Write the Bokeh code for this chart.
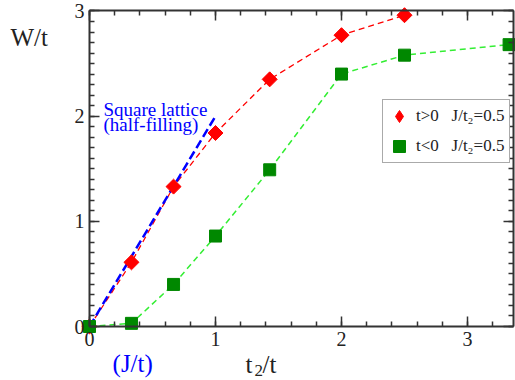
import numpy as np
from bokeh.plotting import figure
from bokeh.models import (LinearAxis, SingleIntervalTicker, Label, Legend,
                          LegendItem, Range1d, CustomLabelingPolicy)
from bokeh.embed import file_html
from bokeh.resources import INLINE

# ---- data ----
pos_x = [0.0, 0.333, 0.667, 1.0, 1.43, 2.0, 2.5]
pos_w = [0.0, 0.61, 1.33, 1.84, 2.35, 2.77, 2.96]
neg_x = [0.0, 0.333, 0.667, 1.0, 1.43, 2.0, 2.5, 3.33]
neg_w = [0.0, 0.03, 0.40, 0.86, 1.49, 2.40, 2.58, 2.68]
sq_x = [0.0, 1.0]
sq_w = [0.0, 2.0]
x_axis_range = (0.0, 3.365)
y_axis_range = (0.0, 3.0)
pos_label = "t>0\u00a0\u00a0\u00a0J/t\u2082=0.5"
neg_label = "t<0\u00a0\u00a0\u00a0J/t\u2082=0.5"

FONT = "Liberation Serif"
AX = "#333333"
W, H = 515, 380
PX_X, PX_Y = 126.0, 105.17      # pixels per data unit
X0_PX, Y0_PX = 89.0, 326.0       # pixel position of the data origin

p = figure(width=W, height=H, output_backend="svg", toolbar_location=None,
           x_range=Range1d(-X0_PX / PX_X, (W - X0_PX) / PX_X),
           y_range=Range1d(-(H - Y0_PX) / PX_Y, Y0_PX / PX_Y),
           x_axis_location=None, y_axis_location=None,
           min_border_left=0, min_border_right=0, min_border_top=0,
           min_border_bottom=0)
p.outline_line_color = None
p.grid.visible = False
p.background_fill_color = "white"
p.border_fill_color = "white"

no_labels = CustomLabelingPolicy(code="""
    for (const i of Array.from(indices)) indices.unset(i)
    return indices
""")


def style(ax, labels):
    ax.axis_line_color = AX
    ax.axis_line_width = 2
    ax.major_tick_line_color = AX
    ax.major_tick_line_width = 1.5
    ax.minor_tick_line_color = AX
    ax.minor_tick_line_width = 1.5
    ax.major_tick_in = 10
    ax.major_tick_out = 0
    ax.minor_tick_in = 5
    ax.minor_tick_out = 0
    if labels:
        ax.major_label_text_font = FONT
        ax.major_label_text_font_size = "20px"
        ax.major_label_text_color = "#222222"
        ax.major_label_standoff = 5
    else:
        ax.major_label_policy = no_labels
        ax.major_label_standoff = 0
    return ax


for loc, fixed in (("below", y_axis_range[0]), ("above", y_axis_range[1])):
    ax = LinearAxis(ticker=SingleIntervalTicker(interval=1, num_minor_ticks=5),
                    fixed_location=fixed, bounds=x_axis_range)
    style(ax, loc == "below")
    p.add_layout(ax, loc)
for loc, fixed in (("left", x_axis_range[0]), ("right", x_axis_range[1])):
    ax = LinearAxis(ticker=SingleIntervalTicker(interval=1, num_minor_ticks=10),
                    fixed_location=fixed, bounds=y_axis_range)
    style(ax, loc == "left")
    p.add_layout(ax, loc)

p.line(pos_x, pos_w, line_color="#ff0000", line_width=1.3, line_dash="6 4")
p.line(neg_x, neg_w, line_color="#33ee33", line_width=1.5, line_dash="6 4")
p.line(sq_x, sq_w, line_color="#0000ff", line_width=2.5, line_dash="9 4")
# diamond key (hidden under the rotated squares) used for the legend
red_key = p.scatter(pos_x, pos_w, marker="diamond", size=13,
                    fill_color="#ff0000", line_color="#ff0000")
p.scatter(pos_x, pos_w, marker="square", size=10.6, angle=np.pi / 4,
          fill_color="#ff0000", line_color="#ff0000")
green_pts = p.scatter(neg_x, neg_w, marker="square", size=12,
                      fill_color="#008800", line_color="#008800")

legend = Legend(items=[LegendItem(label=pos_label, renderers=[red_key]),
                       LegendItem(label=neg_label, renderers=[green_pts])],
                location=(382, 217), orientation="vertical", padding=1,
                spacing=0, margin=0, glyph_width=30, glyph_height=30,
                label_standoff=2, label_height=30, label_width=92,
                label_text_font=FONT,
                label_text_font_size="17px", label_text_color="#222222",
                label_text_baseline="middle",
                border_line_color="#555555", border_line_width=1.5,
                background_fill_color="white", background_fill_alpha=1.0)
p.add_layout(legend)


def lab(x, y, text, size, color="#222222"):
    p.add_layout(Label(x=x, y=y, text=text, text_font=FONT,
                       text_font_size=size, text_color=color,
                       text_baseline="alphabetic", text_align="left"))


lab(-0.627, 2.748, "W/t", "25px")
lab(1.238, -0.361, "t", "25px")
lab(1.310, -0.418, "2", "17px")
lab(1.373, -0.361, "/t", "25px")
lab(0.183, -0.352, "(J/t)", "25px", "#0000ff")
lab(0.111, 2.060, "Square lattice", "19px", "#0000ff")
lab(0.111, 1.925, "(half-filling)", "19px", "#0000ff")

open("out.html", "w").write(file_html(p, INLINE))
